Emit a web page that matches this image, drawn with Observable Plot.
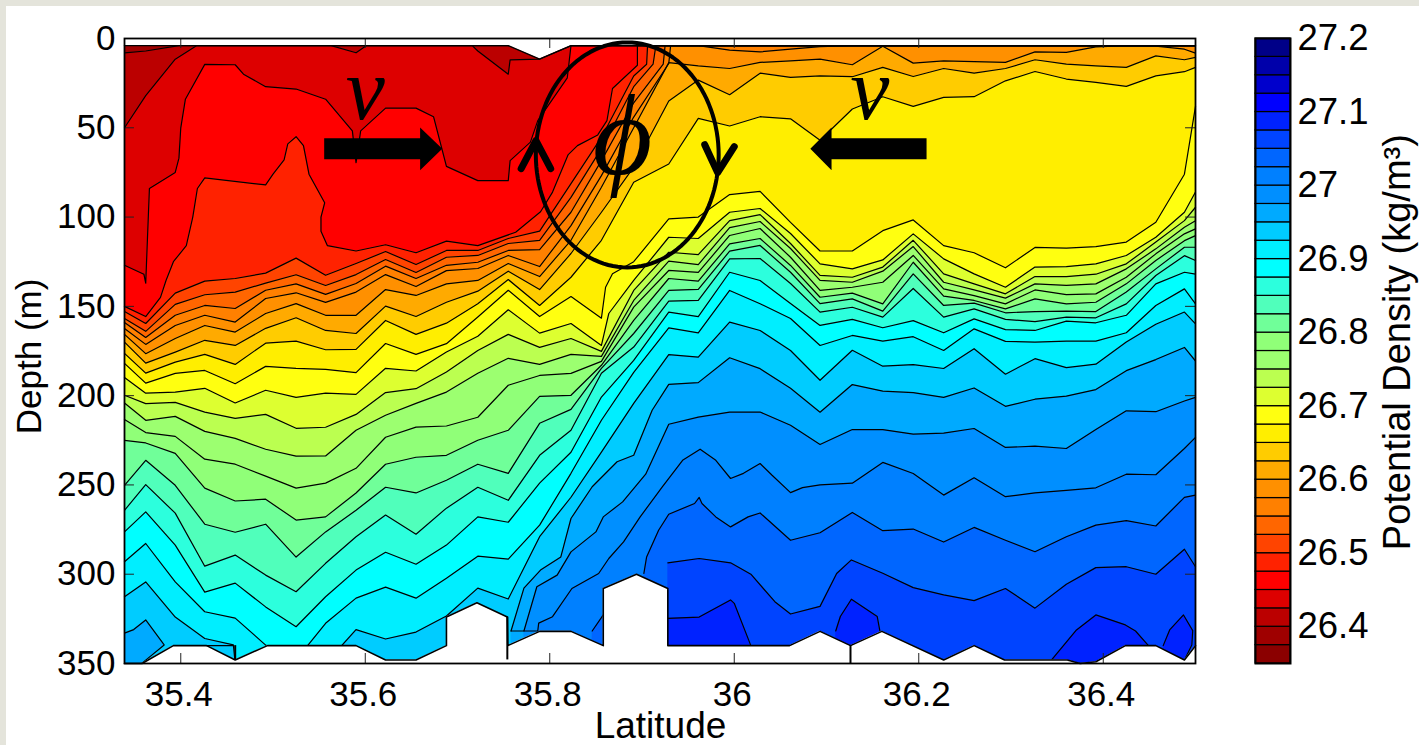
<!DOCTYPE html>
<html><head><meta charset="utf-8">
<script src="https://cdn.jsdelivr.net/npm/d3@7"></script>
<script src="https://cdn.jsdelivr.net/npm/@observablehq/plot@0.6"></script>
<style>
html,body{margin:0;padding:0;background:#fff;width:1419px;height:745px;overflow:hidden;font-family:"Liberation Sans",Arial,sans-serif}
#stripT{position:absolute;left:0;top:0;width:1419px;height:6px;background:#e4e4db}
#stripL{position:absolute;left:0;top:0;width:6px;height:745px;background:#e4e4db}
#main{position:absolute;left:0;top:0}
#bar{position:absolute;left:1240px;top:0}
</style></head><body>
<div id="stripT"></div><div id="stripL"></div><div id="main"></div><div id="bar"></div>
<script>
// station latitudes
const lat=[35.339,35.362,35.394,35.426,35.459,35.492,35.525,35.557,35.590,35.622,35.655,35.688,35.722,35.755,35.789,35.823,35.856,35.891,35.929,35.961,35.995,36.028,36.061,36.093,36.128,36.161,36.194,36.227,36.260,36.294,36.326,36.360,36.392,36.425,36.457,36.488,36.500];
// isopycnal depths (m) at each station
const iso26500=[152.9,159.6,142.6,135.9,134.4,131.4,123,132.6,126,119.3,126.6,118.7,118.7,112,107.9,81.3,55.4,21,4,4,4,4,4,4,4,4,4,4,4,4,4,4,4,4,4,4,4];
const iso26525=[156.8,164,148.9,143.5,142,137,132.3,138.3,132.2,123.8,131,122.5,121.5,114.8,113,89,61.7,27,4,4,4,4,4,4,4,4,4,4,4,4,4,4,4,4,4,4,4];
const iso26550=[159,167.4,155,149.5,151.2,141,137.4,143.3,137.2,127.5,134.4,127,125.3,118.7,118.2,97.3,68.4,36,4,4,4,4,4,4,4,4,4,4,4,4,4,4,4,4,4,4,4];
const iso26575=[162.4,171.3,160.7,155,158.8,145.6,142.4,147.8,142,132.2,138.9,130,128.8,121.5,127.7,104.8,76.8,44,14,4,6.5,7.5,6,4.5,4,4,4,4,4,4,4,4,4,4,4,4,4];
const iso26600=[165.7,176.5,168,160.7,164.4,154,148.5,155,155,140.6,143.9,137.4,135.5,126,133.3,113,83.3,50,13.5,15.3,16.8,13.4,12.5,11.6,14.7,4.3,13.8,12.5,12.9,13.4,7.5,7.8,4.7,4,4.3,6,8.2];
const iso26625=[170,181.8,175.6,169,171.9,162.3,156.4,163.5,165.2,149.9,155.7,147.7,141.5,130.3,140.6,120.4,97.3,72,35,23.3,31.5,19.4,21.8,20.9,21.4,16.2,21.3,16.8,19.4,16.8,11.9,14.4,15.3,16.2,9.7,11.9,10.6];
const iso26650=[176.3,187.4,181.2,176.9,182.5,170.6,169.5,174.3,174.1,157.9,165.7,159.4,148.5,135,149.5,133.7,113,80.5,70.3,44.7,49,43.8,45,57,39.5,32.6,38,33,32.6,23.7,18.5,22.7,24.6,26.8,20.9,18.6,16.2];
const iso26675=[181.9,193,187.5,185.9,193.3,183.6,184.7,185.3,187.1,170.8,176.9,170.9,156,141,155.7,144.5,156.6,125,101,100,87.4,85.6,103,119,119,107.6,101.6,116,120,128.4,117,117.4,116.5,114,102.9,76,38];
const iso26700=[189.8,198.6,198,195.9,204.1,197,201,198.6,199.3,184.7,186.2,175.6,166.7,151.9,165,159.6,171.9,135.5,111.3,112,97.3,95.2,109.2,126.2,129,124,109.4,123.4,131.8,139.3,128,127.7,126.2,121.5,111.3,97.3,86];
const iso26725=[199.8,204.5,203.8,209.2,212.7,210.5,218.3,217.7,210.5,198.3,196.1,186.8,174.7,165.7,173,168,175.2,141.1,119.7,121,102,98.6,114.8,132.7,133.7,128,113,131.8,137.4,143,133.3,133.3,132,126.2,114,102,94.5];
const iso26750=[204.1,213.8,211.6,220,223.9,230,233.9,233.8,219.4,211,204.3,198,187.5,179.1,182.5,176.9,178,146.7,124.7,126.6,105.9,102.5,117.6,135.5,136.5,130.3,116.5,136.5,140.8,145.4,137.4,138.3,137.4,129,117.8,105.7,102];
const iso26775=[213.3,220.7,222.8,235.6,238.4,245.1,251.8,249,240.7,223.3,217.6,217,212.1,194.2,188.7,187.5,180.8,150.4,129.9,131,110.3,106.4,122.5,141.1,139.3,136.5,121.5,140.2,144,148.6,140.8,143.4,143,133.7,120.6,109.4,106.6];
const iso26800=[225,226.5,232.3,251.8,259,258,269.7,267.9,254.5,238.4,234.5,233.4,225,219.4,200.4,199.8,183,157.9,134.4,135.9,115,112,127.1,144.9,142.6,148.6,125.3,144.3,146.7,151.4,145.8,148.6,147.7,137.4,124.3,113.2,110.4];
const iso26825=[250.2,236.2,250.2,272,276.5,272,290.4,276.3,264.2,251.3,254.5,247.4,238.4,243.5,215.5,207.7,184.7,165.2,141.1,140.5,119.1,115.9,130.9,148.5,145.8,152.7,131.8,149.5,148.2,153.6,152.9,152.7,152.9,142,129,116.9,116.9];
const iso26850=[264.2,249.8,265.8,295.5,289.3,300.5,309.8,293.9,279,266.9,277.6,263,251.3,258.6,233.4,219.4,187.5,172.8,147.1,146.7,123.4,123.2,137.2,153.2,150.5,156,140,156,151.4,157.3,158.5,156,156.4,148.6,132.7,121.6,124.3];
const iso26875=[276.3,265.1,283.7,310,305,318.3,329.4,312.6,297.7,287.7,294.4,283.7,267.9,270.9,249,231.7,200.8,180.3,153.2,155.7,130.9,135.5,148.4,160.7,157.3,162,158,164.8,157,163,163.5,158.3,159.2,155,137.4,130.9,132];
const iso26900=[293,282.8,304.3,321,324.6,339.7,348,327.5,313.4,307.2,313.4,302.2,289.9,291.6,272.5,243.5,213.8,187,162,164.8,141.1,148.5,156.8,171.9,166.3,169.5,167,174.7,162.6,169.6,170,169.5,169.5,164.8,149.5,140.2,148.6];
const iso26925=[312.6,304.3,324,336,350,350,350,350,331,336.3,332.4,323.4,307.8,313.9,279,256.9,231.6,204.3,177,178.4,158.8,163.5,174.7,191.4,174.6,183.5,182.6,184.8,173.7,188,179.3,184.3,182.4,170,160,153.2,159.8];
// extra vertices between stations, where a line bends sharply
const bends={
  26.5:[[35.905,14.4],[35.906,4]],
  26.525:[[35.912,14.4],[35.915,4]],
  26.55:[[35.923,14.4],[35.925,4]],
  26.575:[[35.931,4]],
  26.675:[[35.8605,139.3],[35.868,131.7]],
  26.7:[[35.864,154]],
  26.925:[[35.457,339.6]]
};
const stationLevels=[[26.5,iso26500],[26.525,iso26525],[26.55,iso26550],[26.575,iso26575],[26.6,iso26600],[26.625,iso26625],[26.65,iso26650],[26.675,iso26675],[26.7,iso26700],[26.725,iso26725],[26.75,iso26750],[26.775,iso26775],[26.8,iso26800],[26.825,iso26825],[26.85,iso26850],[26.875,iso26875],[26.9,iso26900],[26.925,iso26925]];
// isopycnals traced on their own latitudes
const lat26400=[35.339,35.362,35.398,36.5], dep26400=[8,7,4,4];
const lat26425=[35.339,35.362,35.394,35.417,35.563,35.590,35.601,35.716,35.722,35.755,35.757,35.789,35.823,36.5], dep26425=[50,32,11.6,4,4,8,4,4,7,20,12,11.5,4,4];
const lat26450=[35.339,35.360,35.362,35.366,35.394,35.398,35.400,35.405,35.426,35.459,35.468,35.492,35.525,35.557,35.586,35.590,35.595,35.622,35.655,35.674,35.688,35.722,35.755,35.757,35.779,35.787,35.819,35.823,36.5];
const dep26450=[127,132,137,84,75,67,50,34,14.5,14.7,20,27,28.3,34,51.7,69.5,51.7,39,39,43.8,71.6,79.6,79.6,68.4,58,46,22,4,4];
const lat26475=[35.339,35.362,35.378,35.384,35.392,35.406,35.413,35.418,35.426,35.492,35.500,35.512,35.516,35.525,35.533,35.539,35.556,35.552,35.552,35.559,35.590,35.622,35.655,35.688,35.722,35.763,35.790,35.803,35.820,35.830,35.852,35.862,35.868,35.895,35.895,36.5];
const dep26475=[150,155.7,145,135.5,125,116,100,84,78,82,76,68,59,55,60,76,92,100,108,116,119,115.5,120,113.5,116,108.5,97,86,65,60,54,46,28,15,4,4];
const lat26950a=[35.339,35.349,35.362,35.382,35.358], dep26950a=[333,331,325.6,339.6,349.8];
const lat26950=[35.758,35.772,35.790,35.812,35.823,35.846,35.873,35.891,35.911,35.929,35.961,35.995,36.028,36.061,36.093,36.128,36.161,36.194,36.227,36.260,36.294,36.326,36.360,36.392,36.425,36.457,36.488,36.5];
const dep26950=[331.8,307.8,297.7,290.3,268.8,251,237,233.4,208.2,193.7,192.7,178.8,184.9,195.9,209.3,193.8,197.5,198.3,201,195.7,206,202,200.3,196.6,186,179.8,173,180.6];
const lat26975=[35.772,35.786,35.808,35.823,35.850,35.858,35.879,35.904,35.929,35.961,35.995,36.028,36.061,36.093,36.128,36.161,36.194,36.227,36.260,36.294,36.326,36.360,36.392,36.425,36.457,36.488,36.5];
const dep26975=[331.8,307,300.5,287.5,276.3,267.9,259.5,244,216,212,209.2,209.2,216.6,227.4,219,219,221.6,221,218.4,229,228.3,229.6,219,208.5,209,203,201];
const lat27000=[35.787,35.788,35.803,35.824,35.853,35.864,35.880,35.898,35.922,35.944,35.963,35.980,35.996,36.010,36.028,36.041,36.061,36.074,36.093,36.128,36.161,36.194,36.227,36.260,36.294,36.326,36.360,36.392,36.425,36.457,36.488,36.5];
const dep27000=[331.8,327.4,323.8,308,299.6,291.2,281.9,267.9,251.1,236.2,230,236.2,246.4,243.5,238,244.6,254.3,251.5,250,249,237.4,243.6,255.7,246,256.6,254.4,253,251.6,244,244.3,229.6,223.4];
const lat27025=[35.902,35.905,35.918,35.929,35.957,35.962,35.965,35.980,35.996,36.015,36.028,36.061,36.093,36.128,36.161,36.194,36.227,36.260,36.294,36.326,36.360,36.392,36.425,36.457,36.488,36.5];
const dep27025=[299.6,290.3,275.4,266.4,260.4,257,260.4,267.9,273.5,267.9,265.7,281,276.8,265.4,275.6,274.7,282,273.8,281,287.4,279,272.5,270,273,257,255.7];
const lat27025a=[35.846,35.858], dep27025a=[331.8,322.8];
const lat27050=[35.928,35.962,35.996,36.018,36.044,36.061,36.093,36.111,36.127,36.161,36.194,36.227,36.260,36.294,36.326,36.360,36.392,36.425,36.457,36.488,36.5];
const dep27050=[293.6,291.2,293.6,300,315.4,322.3,318,299.6,292,299.5,307.5,311.6,314.8,308,319,305.6,296.3,295.8,300,286,295.8];
const lat27075a=[35.928,35.962,35.996,36.0,36.018], dep27075a=[324.7,324,314.4,316.3,340];
const lat27075b=[36.110,36.115,36.127,36.155,36.158], dep27075b=[331.8,323.7,314,323.7,332.1];
const lat27075c=[36.344,36.371,36.392,36.424,36.435,36.449], dep27075c=[348,331.2,322.8,328.4,331.8,340];
const lat27075d=[36.465,36.472,36.487,36.497,36.496,36.488], dep27075d=[340,331.2,322.8,331.6,339.6,348];
const traced=[[26.4,lat26400,dep26400],[26.425,lat26425,dep26425],[26.45,lat26450,dep26450],[26.475,lat26475,dep26475],[26.95,lat26950a,dep26950a],[26.95,lat26950,dep26950],[26.975,lat26975,dep26975],[27,lat27000,dep27000],[27.025,lat27025,dep27025],[27.025,lat27025a,dep27025a],[27.05,lat27050,dep27050],[27.075,lat27075a,dep27075a],[27.075,lat27075b,dep27075b],[27.075,lat27075c,dep27075c],[27.075,lat27075d,dep27075d]];
// sea floor and surface limits of the section
const floorLat=[35.339,35.358,35.392,35.428,35.459,35.494,35.590,35.622,35.655,35.688,35.688,35.721,35.754,35.7545,35.789,35.823,35.858,35.858,35.894,35.928,35.928,36.060,36.093,36.126,36.160,36.227,36.260,36.293,36.361,36.375,36.392,36.424,36.457,36.488,36.5];
const floorDep=[350,350,340,340,348,340,340,348,348,340,324,316,324,340,332,332,340,308,300,308,340,340,332,340,332,348,340,348,348,350,349,340,340,348,340];
const surfLat=[35.339,35.755,35.789,35.823,36.5], surfDep=[4,4,11.5,4,4];
const stubLat=[35.459,35.754,36.126], stubTop=[340,324,340], stubEnd=[348,348,350];
const shelfA=[[35.758,331.8],[35.787,331.8]], shelfB=[[35.428,340],[35.457,340]];
// colour bands, one per 0.025 kg/m3 from 26.35 up
const bandColors=["#8b0000","#9f0000","#bb0000","#dd0000","#ff0000","#ff2200","#ff4400","#ff6600","#ff8000","#ff9000","#ffaa00","#ffcc00","#ffee00","#ffff10","#ddff30","#bbff50","#9cff70","#90ff78","#70ff99","#50ffbb","#2cffdd","#00ffff","#00eeff","#00ccff","#00aaff","#008fff","#0080ff","#0066ff","#0044ff","#0022ff","#0000ff","#0000cc","#0000aa","#000088"];
const bandFloor=26.35, bandStep=0.025;
// axes
const latTicks=[35.4,35.6,35.8,36,36.2,36.4], depthTicks=[0,50,100,150,200,250,300,350], densTicks=[26.4,26.5,26.6,26.7,26.8,26.9,27,27.1,27.2];
const xDom=[35.339,36.5], yDom=[0,350];
// annotations
const vLat=[35.600,36.147], vDep=[46,46];
const phiLat=[35.879], phiDep=[55];
const ringLat=35.884, ringDep=65.2, ringRx=0.0991, ringRy=63;
const arrowR={x:[35.556,35.660,35.660,35.684],y1:[56.1,56.1,50.1,62],y2:[67.9,67.9,74,62]};
const arrowL={x:[36.083,36.106,36.106,36.209],y1:[62,50.1,56.1,56.1],y2:[62,74,67.9,67.9]};
const headUp={x:[35.769,35.785,35.801],y:[72.9,57.2,72.9]};
const headDown={x:[35.968,35.982,36.0],y:[59.5,75.1,60.6]};

const pts=(xs,ds)=>xs.map((x,i)=>({x,d:ds[i]}));
const withBends=(v,d)=>{const p=pts(lat,d);for(const [x,dd] of (bends[v]||[]))p.push({x,d:dd});return p.sort((a,b)=>a.x-b.x);};
const all=[...traced.map(([v,x,d])=>[v,pts(x,d)]),...stationLevels.map(([v,d])=>[v,withBends(v,d)])].sort((a,b)=>a[0]-b[0]);
const colorOf=v=>bandColors[Math.round((v-bandFloor)/bandStep)];
const marks=[];
marks.push(Plot.areaY(pts(xDom,[4,4]),{x:"x",y1:"d",y2:350,fill:bandColors[1]}));
for(const [v,p] of all) marks.push(Plot.areaY(p,{x:"x",y1:"d",y2:350,fill:colorOf(v)}));
for(const [v,p] of all) marks.push(Plot.line(p,{x:"x",y:"d",stroke:"#000",strokeWidth:1.2}));
marks.push(Plot.areaY(pts(floorLat,floorDep),{x:"x",y1:"d",y2:350,fill:"#fff"}));
marks.push(Plot.line(pts(floorLat,floorDep),{x:"x",y:"d",stroke:"#000",strokeWidth:1.6}));
for(const s of [shelfA,shelfB]) marks.push(Plot.line(s,{x:d=>d[0],y:d=>d[1],stroke:"#000",strokeWidth:1.2}));
marks.push(Plot.ruleX(stubLat,{x:d=>d,y1:(d,i)=>stubTop[i],y2:(d,i)=>stubEnd[i],stroke:"#000",strokeWidth:2}));
marks.push(Plot.areaY(pts(surfLat,surfDep),{x:"x",y1:0,y2:"d",fill:"#fff"}));
marks.push(Plot.line(pts(surfLat,surfDep),{x:"x",y:"d",stroke:"#000",strokeWidth:1.4}));
// ticks inside the frame
const tx=0.0108, ty=5.6;
marks.push(Plot.ruleX(latTicks,{y1:0,y2:ty,stroke:"#222"}));
marks.push(Plot.ruleX(latTicks,{y1:350-ty,y2:350,stroke:"#222"}));
marks.push(Plot.ruleY(depthTicks,{x1:xDom[0],x2:xDom[0]+tx,stroke:"#222"}));
marks.push(Plot.ruleY(depthTicks,{x1:xDom[1]-tx,x2:xDom[1],stroke:"#222"}));
marks.push(Plot.axisX(latTicks,{tickSize:0,tickPadding:18,fontSize:35,dx:-2,tickFormat:d=>String(d),label:null}));
marks.push(Plot.axisY(depthTicks,{tickSize:0,tickPadding:9,fontSize:35,tickFormat:d=>String(d),label:null}));
marks.push(Plot.frame({stroke:"#000",strokeWidth:1.8}));
// annotations
const th=d3.range(0,361,3).map(a=>a*Math.PI/180);
marks.push(Plot.line(th,{x:t=>ringLat+ringRx*Math.cos(t),y:t=>ringDep+ringRy*Math.sin(t),stroke:"#000",strokeWidth:4}));
for(const a of [arrowR,arrowL]) marks.push(Plot.areaY(a.x.map((x,i)=>({x,a:a.y1[i],b:a.y2[i]})),{x:"x",y1:"a",y2:"b",fill:"#000"}));
for(const h of [headUp,headDown]) marks.push(Plot.line(pts(h.x,h.y),{x:"x",y:"d",stroke:"#000",strokeWidth:7,strokeLinecap:"round",strokeLinejoin:"round"}));
marks.push(Plot.text(vLat,{x:d=>d,y:(d,i)=>vDep[i],text:()=>"v",fontFamily:"Liberation Serif",fontStyle:"italic",fontSize:88,lineAnchor:"bottom",dy:-2,fill:"#000"}));
marks.push(Plot.text(phiLat,{x:d=>d,y:(d,i)=>phiDep[i],text:()=>"ϕ",fontFamily:"Liberation Serif",fontStyle:"italic",fontSize:115,fill:"#000"}));
// axis titles
marks.push(Plot.text(["Latitude"],{x:()=>35.92,y:()=>350,text:d=>d,fontSize:37,dy:63}));
marks.push(Plot.text(["Depth (m)"],{x:()=>xDom[0],y:()=>178,text:d=>d,fontSize:35,rotate:-90,dx:-95}));

const chart=Plot.plot({width:1240,height:745,marginLeft:124,marginRight:45,marginTop:38,marginBottom:82,
  style:{fontFamily:"Liberation Sans",background:"transparent",overflow:"visible"},
  x:{domain:xDom,axis:null},y:{domain:yDom,reverse:true,axis:null},clip:false,marks});
document.getElementById("main").append(chart);

const bandRows=bandColors.map((c,i)=>({c,a:bandFloor+i*bandStep,b:bandFloor+(i+1)*bandStep}));
const bar=Plot.plot({width:179,height:745,marginLeft:15,marginRight:129,marginTop:38,marginBottom:82,
  style:{fontFamily:"Liberation Sans",background:"transparent",overflow:"visible"},
  x:{domain:[0,1],axis:null},y:{domain:[26.35,27.2],axis:null},
  marks:[
    Plot.rectY(bandRows,{x1:()=>0,x2:()=>1,y1:"a",y2:"b",fill:"c",stroke:"#000",strokeWidth:1.2}),
    Plot.frame({stroke:"#000",strokeWidth:2}),
    Plot.axisY(densTicks,{anchor:"right",tickSize:0,tickPadding:7,fontSize:36.5,tickFormat:d=>String(d),label:null}),
    Plot.text(["Potential Density (kg/m³)"],{x:()=>1,y:()=>26.787,text:d=>d,fontSize:38,rotate:-90,dx:107})
  ]});
document.getElementById("bar").append(bar);
</script></body></html>
